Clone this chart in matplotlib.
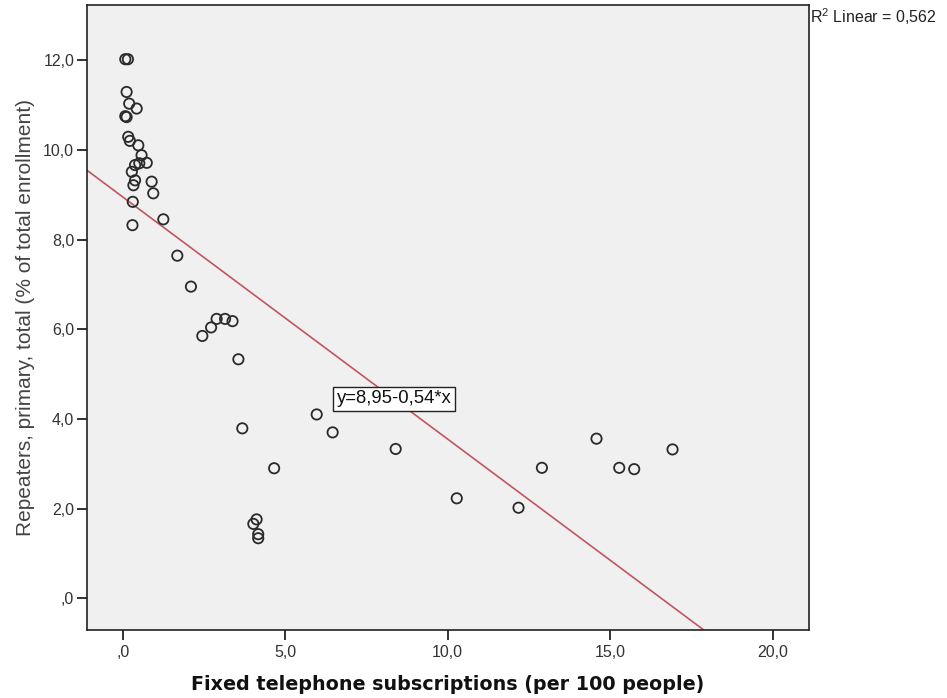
import matplotlib
matplotlib.use("Agg")
import matplotlib.pyplot as plt
from matplotlib.ticker import FuncFormatter, FixedLocator
import numpy as np

# Data
phones = [0.08, 0.16, 0.12, 0.20, 0.43, 0.08, 0.12, 0.17, 0.22, 0.48,
          0.58, 0.74, 0.51, 0.38, 0.28, 0.38, 0.33, 0.89, 0.94, 0.31,
          1.25, 0.30, 1.68, 2.10, 2.89, 3.15, 3.38, 2.72, 2.45, 3.56,
          5.97, 6.46, 3.68, 4.66, 4.12, 4.02, 4.17, 4.17, 8.40, 10.28,
          12.18, 12.90, 14.58, 15.28, 15.74, 16.92]
repeaters = [12.02, 12.02, 11.29, 11.03, 10.92, 10.75, 10.73, 10.29, 10.20, 10.10,
             9.88, 9.71, 9.70, 9.66, 9.51, 9.32, 9.21, 9.29, 9.03, 8.84,
             8.45, 8.32, 7.64, 6.95, 6.23, 6.23, 6.18, 6.04, 5.85, 5.33,
             4.10, 3.70, 3.79, 2.90, 1.76, 1.66, 1.43, 1.34, 3.33, 2.23,
             2.02, 2.91, 3.56, 2.91, 2.88, 3.32]

intercept = 8.95
slope = -0.54
r2_label = r"R$^{\mathregular{2}}$ Linear = 0,562"
eq_label = "y=8,95-0,54*x"

x_ticks = [0, 5, 10, 15, 20]
y_ticks = [0, 2, 4, 6, 8, 10, 12]
x_title = "Fixed telephone subscriptions (per 100 people)"
y_title = "Repeaters, primary, total (% of total enrollment)"

plt.rcParams['font.family'] = ['Liberation Sans', 'DejaVu Sans']

fig = plt.figure(figsize=(9.47, 6.98), dpi=100)
fig.patch.set_facecolor('white')
ax = fig.add_axes([86.7/947, 1-629.5/698, (808.7-86.7)/947, (629.5-4.5)/698])
ax.set_facecolor('#f0f0f0')

xlim = (-1.108, 21.11)
ylim = (-0.695, 13.24)
ax.set_xlim(*xlim)
ax.set_ylim(*ylim)

ax.scatter(phones, repeaters, s=55, facecolors='none', edgecolors='#2a2a2a',
           linewidths=1.3, zorder=3)

xs = np.array(xlim)
ax.plot(xs, intercept + slope * xs, color='#c25560', lw=1.2, zorder=2)

ax.text(6.58, 4.45, eq_label, ha='left', va='center', fontsize=13.3,
        color='#111111', zorder=4,
        bbox=dict(boxstyle='square,pad=0.2', facecolor='white',
                  edgecolor='#222222', linewidth=1.0))

def fmt(v, pos):
    s = f"{v:.1f}".replace('.', ',')
    if s.startswith('0,'):
        s = s[1:]
    return s

ax.xaxis.set_major_locator(FixedLocator(x_ticks))
ax.yaxis.set_major_locator(FixedLocator(y_ticks))
ax.xaxis.set_major_formatter(FuncFormatter(fmt))
ax.yaxis.set_major_formatter(FuncFormatter(fmt))
ax.tick_params(axis='both', direction='out', length=7, width=1.3,
               color='#222222', labelsize=11.5, labelcolor='#333333')
ax.tick_params(axis='y', pad=2)
ax.tick_params(axis='x', pad=4)
for sp in ax.spines.values():
    sp.set_color('#222222')
    sp.set_linewidth(1.2)

ax.set_xlabel(x_title, fontsize=13.8, fontweight='bold', color='#111111',
              family=['DejaVu Sans'], labelpad=11)
ax.set_ylabel(y_title, fontsize=15, color='#444444', labelpad=6)

fig.text(810/947, 1-17/698, r2_label, ha='left', va='center', fontsize=11.5,
         color='#222222')

fig.savefig('out.png', dpi=100)
